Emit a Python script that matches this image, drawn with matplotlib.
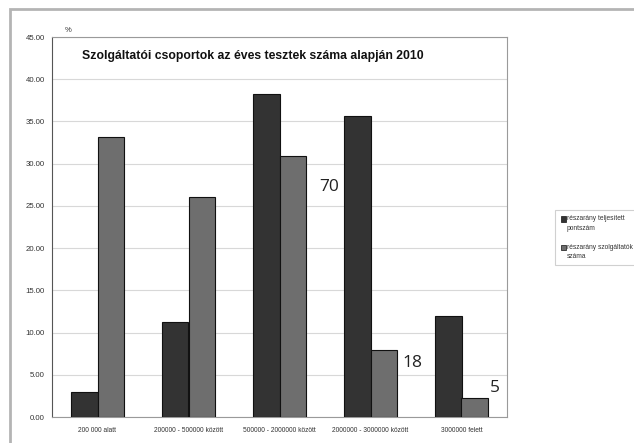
import matplotlib.pyplot as plt
import numpy as np
from matplotlib.patches import Rectangle

# Service provider groups by yearly number of tests, 2010
categories = ["200 000 alatt", "200000 - 500000 között", "500000 - 2000000 között",
              "2000000 - 3000000 között", "3000000 felett"]
pontszam = [2.92, 11.29, 38.23, 35.70, 11.93]
szolgaltatok = [33.10, 26.07, 30.92, 7.94, 2.20]
series_names = ["részarány teljesített\npontszám", "részarány szolgáltatók\nszáma"]
colors = ["#333333", "#6e6e6e"]

# counts written next to some of the groups
counts = ["70", "18", "5"]

W, H = 634, 443
fig = plt.figure(figsize=(W / 100, H / 100), dpi=100)
fig.patch.set_facecolor("white")

# outer frame of the chart object
fig.patches.append(Rectangle((10 / W, -0.05), 1.1, 1 - 9 / H + 0.05, transform=fig.transFigure,
                             fill=False, edgecolor="#b4b4b4", linewidth=2))

ax = fig.add_axes([52 / W, 1 - 417 / H, 455 / W, 380 / H])
x = np.arange(len(categories))
bw = 0.293
ax.bar(x - bw / 2, pontszam, bw, color=colors[0], edgecolor="#111111", linewidth=0.8, zorder=3)
ax.bar(x + bw / 2, szolgaltatok, bw, color=colors[1], edgecolor="#111111", linewidth=0.8, zorder=3)

ax.set_xlim(-0.5, len(categories) - 0.5)
ax.set_ylim(0, 45)
ax.set_yticks(np.arange(0, 46, 5))
ax.set_yticklabels([f"{v:.2f}" for v in np.arange(0, 46, 5)], fontsize=5.6, color="#333333",
                   family="Liberation Sans")
ax.set_xticks(x)
ax.set_xticklabels(categories, fontsize=4.8, color="#333333", family="Liberation Sans")
ax.tick_params(axis="both", length=0, pad=5)
ax.tick_params(axis="x", pad=7)
ax.yaxis.grid(True, color="#d8d8d8", linewidth=0.8, zorder=0)
for side in ["top", "right", "bottom"]:
    ax.spines[side].set_color("#9a9a9a")
    ax.spines[side].set_linewidth(0.8)
ax.spines["left"].set_color("#555555")
ax.spines["left"].set_linewidth(0.8)

ax.text(0.065, 0.95, "Szolgáltatói csoportok az éves tesztek száma alapján 2010",
        transform=ax.transAxes, fontsize=8.8, fontweight="bold", family="Liberation Sans",
        color="#111111", va="center", ha="left")
fig.text(68 / W, 1 - 31 / H, "%", fontsize=5.5, color="#333333", family="Liberation Sans",
         ha="center", va="center")

# counts placed beside the bars
count_pos = [(2.55, 27.2), (3.46, 6.4), (4.37, 3.45)]
for lab, (cx, cy) in zip(counts, count_pos):
    ax.text(cx, cy, lab, fontsize=12.5, family="Open Sans", color="#222222",
            ha="center", va="center")

# legend box at the right, running off the edge
fig.patches.append(Rectangle((555 / W, 1 - 265 / H), 0.2, 55 / H, transform=fig.transFigure,
                             facecolor="white", edgecolor="#d0d0d0", linewidth=0.8))
for i, (name, c) in enumerate(zip(series_names, colors)):
    ytop = 1 - (219 + 28 * i) / H
    fig.patches.append(Rectangle((561 / W, ytop - 2.5 / H), 5 / W, 5 / H,
                                 transform=fig.transFigure, facecolor=c,
                                 edgecolor="#111111", linewidth=0.5))
    fig.text(567 / W, ytop + 3.5 / H, name, fontsize=4.8, family="Liberation Sans",
             color="#333333", ha="left", va="top", linespacing=1.6)

fig.savefig("out.png", dpi=100)
